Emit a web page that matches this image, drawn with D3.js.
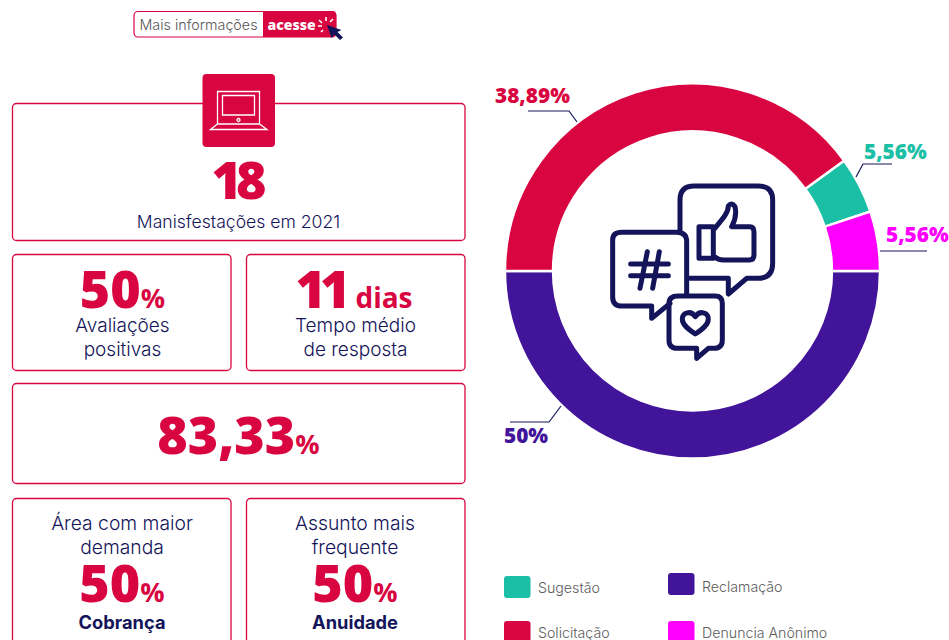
<!DOCTYPE html>
<html><head><meta charset="utf-8">
<script src="https://cdn.jsdelivr.net/npm/d3@7/dist/d3.min.js"></script>
<style>html,body{margin:0;padding:0;background:#fff;overflow:hidden}svg{display:block}text{font-family:Inter,Lato,sans-serif}</style>
</head><body><svg id="c" width="949" height="640"></svg>
<script>
const categories=["Reclamação","Solicitação","Sugestão","Denuncia Anônimo"];
const values=[50,40,4.86,5.14];
const valueLabels=["50%","38,89%","5,56%","5,56%"];
const colors=["#421499","#D80541","#1ABFA5","#FF00FF"];
const RED="#D80541",NAVY="#14145A",GRAY="#5a5a5a",HEAVY="'Open Sans',sans-serif";
const svg=d3.select("#c");
const color=d3.scaleOrdinal(categories,colors);

function txt(x,y,s,size,weight,fill,anchor="middle"){
  return svg.append("text").attr("x",x).attr("y",y).attr("font-size",size).attr("font-weight",weight)
    .attr("fill",fill).attr("text-anchor",anchor).text(s);
}
function big(cx,y,num,unit,s1,s2,track=0,gap=0){
  const t=svg.append("text").attr("x",cx).attr("y",y).attr("text-anchor","middle").attr("fill",RED)
    .attr("font-weight",800).style("font-family",HEAVY);
  t.append("tspan").attr("font-size",s1).attr("letter-spacing",track).text(num);
  if(unit) t.append("tspan").attr("font-size",s2).attr("font-weight",700).attr("dx",gap).text(unit);
}
const boxes=[[12,103,452.5,137],[12,254,218.5,116],[246,254,218.5,116],[12,383,452.5,100],[12,498,218.5,160],[246,498,218.5,160]];
svg.selectAll("rect.box").data(boxes).join("rect").attr("class","box")
  .attr("x",d=>d[0]+.5).attr("y",d=>d[1]+.5).attr("width",d=>d[2]).attr("height",d=>d[3]).attr("rx",4)
  .attr("fill","#fff").attr("stroke",RED).attr("stroke-width",1.3);

// top button
svg.append("rect").attr("x",134).attr("y",11.5).attr("width",202).attr("height",25.5).attr("rx",4).attr("fill","#fff").attr("stroke",RED).attr("stroke-width",1.2);
svg.append("path").attr("d","M263,11H332a4,4 0 0 1 4,4V33a4,4 0 0 1 -4,4H263Z").attr("fill",RED);
txt(139.5,30,"Mais informações",14.3,300,"#555","start");
txt(267.5,29.5,"acesse",14,800,"#fff","start").style("font-family",HEAVY);
svg.append("path").attr("d","M326,17v4M333,19l-3,3M319,20l3,3M318,26h4M321,32l2,-2").attr("stroke","#fff").attr("stroke-width",1.6).attr("fill","none");
svg.append("path").attr("d","M327,25L331.5,38L334.5,34.5L340,40L343,37.5L337.5,32L341.5,30Z").attr("fill",NAVY);

// laptop tile
svg.append("rect").attr("x",202.5).attr("y",74).attr("width",72.5).attr("height",73).attr("rx",4).attr("fill",RED);
svg.append("path").attr("fill","none").attr("stroke","#fff").attr("stroke-width",1.3)
  .attr("d","M217.5,124V91.5H259.5V124M222.5,95.5H254.5V115H222.5ZM217.5,124H259.5L267,129.5H210.5ZM238.5,118.5a1.5,1.5 0 1 0 .01,0");

// panel text
const HUGE=52,UNIT=27;
big(236,199,"18","",HUGE,UNIT,-6);
txt(238.5,228,"Manisfestações em 2021",17.6,300,NAVY);
big(122.5,308,"50","%",HUGE,UNIT);
txt(122.5,332,"Avaliações",19,300,NAVY);
txt(122.5,356,"positivas",19,300,NAVY);
big(354,308,"11","dias",HUGE,28,-6,11);
txt(355.5,332,"Tempo médio",19,300,NAVY);
txt(355.5,356,"de resposta",19,300,NAVY);
big(238.5,454,"83,33","%",HUGE,UNIT);
txt(122,530,"Área com maior",19.3,300,NAVY);
txt(122,554,"demanda",19.3,300,NAVY);
big(122,602,"50","%",HUGE,UNIT);
txt(122,629,"Cobrança",18.3,700,NAVY);
txt(355,530,"Assunto mais",19.3,300,NAVY);
txt(355,554,"frequente",19.3,300,NAVY);
big(355,602,"50","%",HUGE,UNIT);
txt(355,629,"Anuidade",18.3,700,NAVY);

// donut
const cx=692.5,cy=271,R=187.5,r0=139.5;
const pie=d3.pie().sort(null).startAngle(Math.PI/2).endAngle(Math.PI/2+2*Math.PI).value(d=>d);
const arc=d3.arc().innerRadius(r0).outerRadius(R);
const g=svg.append("g").attr("transform",`translate(${cx},${cy})`);
g.selectAll("path").data(pie(values)).join("path").attr("d",arc)
  .attr("fill",(d,i)=>color(categories[i])).attr("stroke","#fff").attr("stroke-width",2.4);

// leaders
const leaders=[[[510,422],[549,422],[561,406]],[[528,111],[569,111],[577,122]],[[892,164],[863,164],[856,177]],[[880,251],[927,251]]];
svg.selectAll("path.lead").data(leaders).join("path").attr("class","lead")
  .attr("d",d3.line()).attr("fill","none").attr("stroke",NAVY).attr("stroke-width",1.2);
const labelPos=[[504,443],[495,103],[864,159],[886,242]];
labelPos.forEach((p,i)=>txt(p[0],p[1],valueLabels[i],20.8,800,colors[i],"start").style("font-family",HEAVY));

// chat icon
const ic=svg.append("g").attr("transform","translate(590,170) scale(.3333)").attr("fill","none").attr("stroke",NAVY).attr("stroke-width",15).attr("stroke-linecap","round").attr("stroke-linejoin","round");
ic.append("path").attr("d","M270,180V90Q270,48 312,48H505Q548,48 548,90V280Q548,325 505,325H470L415,372V325H300");
ic.append("path").attr("d","M327,170H370V265H327ZM370,180C395,150 415,130 415,108Q425,95 435,110Q442,140 425,170H480Q492,170 492,185V255Q492,270 478,270H400Q385,270 370,258");
ic.append("path").attr("d","M290,375V215Q290,187 260,187H95Q68,187 68,210V380Q68,408 95,408H185V445L240,400");
ic.append("path").attr("d","M265,378H375Q397,378 397,400V510Q397,535 372,535H355L320,565V535H262Q237,535 237,510V400Q237,378 265,378Z");
ic.append("path").attr("d","M316,492C295,478 277,465 277,447C277,427 303,420 316,440C329,420 355,427 355,447C355,465 337,478 316,492Z");
ic.append("path").attr("d","M172,245L150,355M208,245L188,355M122,282H235M122,317H235");

// legend
const legendPos=[[668,573],[504,621],[504,576],[668,621]];
categories.forEach((c,i)=>{
  const [x,y]=legendPos[i];
  svg.append("rect").attr("x",x).attr("y",y).attr("width",26.5).attr("height",22).attr("rx",3).attr("fill",color(c));
  txt(x+34,y+(i==0?19:17),c,14.2,300,GRAY,"start");
});
</script></body></html>
